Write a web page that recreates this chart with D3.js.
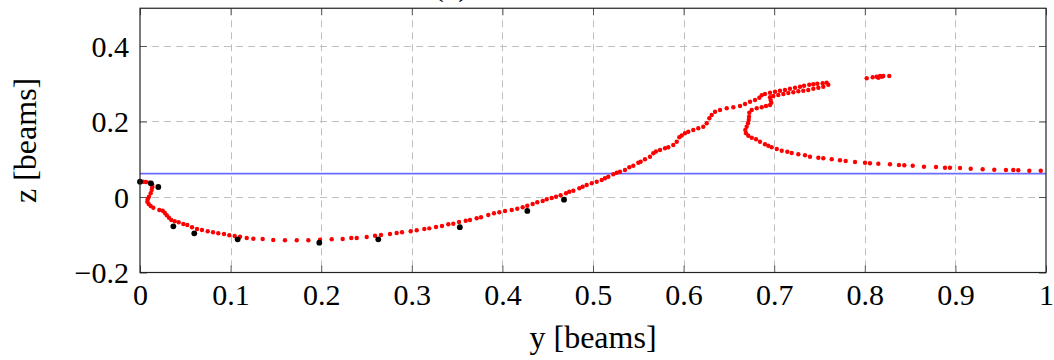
<!DOCTYPE html>
<html>
<head>
<meta charset="utf-8">
<script src="https://cdn.jsdelivr.net/npm/d3@7"></script>
<style>
  html, body { margin: 0; padding: 0; background: #fff; }
  svg { display: block; }
</style>
</head>
<body>
<svg id="chart" width="1054" height="360"></svg>
<script>
// Tick values for both axes
const xTicks = [0, 0.1, 0.2, 0.3, 0.4, 0.5, 0.6, 0.7, 0.8, 0.9, 1];
const zTicks = [-0.2, 0, 0.2, 0.4];

// Reference height (blue horizontal line)
const zLevel = 0.062;

// Tracked trajectory: horizontal position y [beams]
const trackY = [
  0.0036, 0.0066, 0.0103, 0.0136, 0.0136, 0.0129, 0.0118, 0.0099, 0.0085, 0.0081,
  0.0096, 0.0118, 0.0147, 0.0213, 0.0251, 0.0273, 0.0295, 0.0320, 0.0345, 0.0383,
  0.0427, 0.0478, 0.0522, 0.0574, 0.0629, 0.0684, 0.0747, 0.0806, 0.0864, 0.0927,
  0.0986, 0.1045, 0.1104, 0.1178, 0.1251, 0.1354, 0.1471, 0.1600, 0.1730, 0.1858,
  0.1987, 0.2116, 0.2237, 0.2332, 0.2392, 0.2502, 0.2594, 0.2660, 0.2759, 0.2833,
  0.2892, 0.2988, 0.3054, 0.3138, 0.3193, 0.3267, 0.3333, 0.3403, 0.3458, 0.3521,
  0.3595, 0.3642, 0.3716, 0.3764, 0.3844, 0.3907, 0.3966, 0.4029, 0.4103, 0.4164,
  0.4224, 0.4275, 0.4334, 0.4385, 0.4445, 0.4489, 0.4544, 0.4592, 0.4643, 0.4702,
  0.4738, 0.4783, 0.4849, 0.4886, 0.4930, 0.4986, 0.5041, 0.5096, 0.5132, 0.5169,
  0.5224, 0.5262, 0.5298, 0.5353, 0.5401, 0.5445, 0.5500, 0.5526, 0.5574, 0.5629,
  0.5666, 0.5695, 0.5740, 0.5795, 0.5831, 0.5886, 0.5924, 0.5953, 0.5979, 0.6015,
  0.6052, 0.6107, 0.6162, 0.6217, 0.6255, 0.6284, 0.6310, 0.6347, 0.6402, 0.6476,
  0.6549, 0.6623, 0.6678, 0.6733, 0.6788, 0.6836, 0.6862,
  0.6898, 0.6954, 0.7009, 0.7064, 0.7119, 0.7174, 0.7230, 0.7285, 0.7329, 0.7387,
  0.7432, 0.7476, 0.7535, 0.7579, 0.7597,
  0.7542, 0.7487, 0.7432, 0.7376, 0.7321, 0.7266, 0.7211, 0.7156, 0.7101, 0.7045,
  0.6990, 0.6954, 0.6961, 0.6968, 0.6954, 0.6909, 0.6862, 0.6807, 0.6752, 0.6725,
  0.6722, 0.6719, 0.6711, 0.6696, 0.6681, 0.6689, 0.6714, 0.6752, 0.6799, 0.6843,
  0.6898, 0.6935, 0.6972, 0.7028, 0.7083, 0.7145, 0.7193, 0.7266, 0.7340, 0.7395,
  0.7487, 0.7542, 0.7635, 0.7726, 0.7789, 0.7892, 0.8002, 0.8057, 0.8149, 0.8278,
  0.8377, 0.8436, 0.8529, 0.8653, 0.8786, 0.8885, 0.8940, 0.9051, 0.9169, 0.9301,
  0.9429, 0.9558, 0.9639, 0.9694, 0.9816, 0.9942,
  0.8021, 0.8087, 0.8131, 0.8149, 0.8168, 0.8187, 0.8204, 0.8270
];

// Tracked trajectory: vertical position z [beams]
const trackZ = [
  0.0405, 0.0397, 0.0379, 0.0318, 0.0257, 0.0185, 0.0098, 0.0008, -0.0061, -0.0125,
  -0.0185, -0.0238, -0.0283, -0.0344, -0.0363, -0.0416, -0.0485, -0.0548, -0.0609, -0.0644,
  -0.0670, -0.0715, -0.0742, -0.0803, -0.0848, -0.0874, -0.0909, -0.0935, -0.0962, -0.0980,
  -0.1015, -0.1033, -0.1051, -0.1086, -0.1104, -0.1113, -0.1139, -0.1147, -0.1147, -0.1147,
  -0.1131, -0.1121, -0.1113, -0.1086, -0.1086, -0.1060, -0.1025, -0.1007, -0.0980, -0.0954,
  -0.0935, -0.0909, -0.0882, -0.0848, -0.0830, -0.0795, -0.0768, -0.0723, -0.0707, -0.0662,
  -0.0628, -0.0609, -0.0564, -0.0538, -0.0477, -0.0432, -0.0405, -0.0371, -0.0344, -0.0310,
  -0.0273, -0.0230, -0.0185, -0.0140, -0.0106, -0.0061, -0.0026, 0.0008, 0.0045, 0.0098,
  0.0141, 0.0167, 0.0230, 0.0273, 0.0318, 0.0363, 0.0405, 0.0450, 0.0495, 0.0538,
  0.0601, 0.0644, 0.0670, 0.0715, 0.0787, 0.0829, 0.0909, 0.0935, 0.0999, 0.1068,
  0.1158, 0.1205, 0.1245, 0.1290, 0.1317, 0.1377, 0.1465, 0.1581, 0.1629, 0.1687,
  0.1730, 0.1775, 0.1820, 0.1862, 0.1952, 0.2085, 0.2172, 0.2260, 0.2305, 0.2350,
  0.2376, 0.2411, 0.2464, 0.2525, 0.2570, 0.2630, 0.2694,
  0.2728, 0.2763, 0.2789, 0.2816, 0.2834, 0.2869, 0.2895, 0.2922, 0.2948, 0.2975,
  0.2985, 0.3001, 0.3012, 0.3028, 0.2975,
  0.2922, 0.2895, 0.2869, 0.2834, 0.2816, 0.2800, 0.2773, 0.2755, 0.2728, 0.2702,
  0.2675, 0.2641, 0.2570, 0.2498, 0.2437, 0.2411, 0.2376, 0.2350, 0.2305, 0.2233,
  0.2127, 0.2040, 0.1952, 0.1862, 0.1775, 0.1687, 0.1624, 0.1571, 0.1528, 0.1465,
  0.1396, 0.1359, 0.1317, 0.1272, 0.1226, 0.1200, 0.1166, 0.1131, 0.1105, 0.1068,
  0.1041, 0.1025, 0.0999, 0.0972, 0.0954, 0.0927, 0.0909, 0.0893, 0.0882, 0.0866,
  0.0848, 0.0840, 0.0829, 0.0803, 0.0795, 0.0776, 0.0776, 0.0768, 0.0750, 0.0734,
  0.0723, 0.0715, 0.0715, 0.0707, 0.0697, 0.0697,
  0.3144, 0.3171, 0.3187, 0.3160, 0.3205, 0.3187, 0.3205, 0.3205
];

// Measured reference positions (black markers)
const refY = [0, 0.0121, 0.0202, 0.0368, 0.0599, 0.1078, 0.1979, 0.263, 0.353, 0.4275, 0.468];
const refZ = [0.0405, 0.0363, 0.0265, -0.0776, -0.0962, -0.112, -0.121, -0.112, -0.080, -0.037, -0.007];

const svg = d3.select("#chart");
const font = "'Liberation Serif', 'DejaVu Serif', serif";

const plotL = 140, plotR = 1046, plotT = 8.25, plotB = 272.5;
const x = d3.scaleLinear().domain([0, 1]).range([plotL, plotR]);
const z = d3.scaleLinear().domain([-0.2, 0.5]).range([plotB, plotT]);

const fmt = v => {
  if (v === 0) return "0";
  if (v === 1) return "1";
  const s = d3.format(".1f")(Math.abs(v));
  return (v < 0 ? "\u2212" : "") + s;
};

// Caption above the axes (mostly outside the view)
svg.append("text")
  .attr("x", 434).attr("y", -4)
  .attr("font-family", font).attr("font-size", 29)
  .attr("fill", "#000")
  .text("(b)");

// Grid
const grid = svg.append("g")
  .attr("stroke", "#bfbfbf")
  .attr("stroke-width", 1)
  .attr("stroke-dasharray", "7,5");
grid.selectAll("line.v").data(xTicks.filter(t => t > 0 && t < 1)).join("line")
  .attr("class", "v")
  .attr("x1", d => Math.round(x(d)) + 0.5).attr("x2", d => Math.round(x(d)) + 0.5)
  .attr("y1", plotT).attr("y2", plotB);
grid.selectAll("line.h").data(zTicks.filter(t => t > -0.2)).join("line")
  .attr("class", "h")
  .attr("x1", plotL).attr("x2", plotR)
  .attr("y1", d => Math.round(z(d)) + 0.5).attr("y2", d => Math.round(z(d)) + 0.5);

// Axes with inward ticks
const tickLen = 7;
const gx = svg.append("g").attr("transform", `translate(0,${plotB})`)
  .call(d3.axisBottom(x).tickValues(xTicks).tickSize(-tickLen).tickFormat(fmt));
const gxTop = svg.append("g").attr("transform", `translate(0,${plotT})`)
  .call(d3.axisTop(x).tickValues(xTicks).tickSize(-tickLen).tickFormat(""));
const gz = svg.append("g").attr("transform", `translate(${plotL},0)`)
  .call(d3.axisLeft(z).tickValues(zTicks).tickSize(-tickLen).tickPadding(11).tickFormat(fmt));
const gzRight = svg.append("g").attr("transform", `translate(${plotR},0)`)
  .call(d3.axisRight(z).tickValues(zTicks).tickSize(-tickLen).tickFormat(""));

[gx, gxTop, gz, gzRight].forEach(g => {
  g.select(".domain").remove();
  g.selectAll(".tick line").attr("stroke", "#555").attr("stroke-width", 1);
  g.attr("font-family", font).attr("font-size", 30);
});
gx.selectAll(".tick text").attr("fill", "#000").attr("dy", null).attr("y", 32);
gz.selectAll(".tick text").attr("fill", "#000").attr("dy", "0.34em");

// Reference level
svg.append("line")
  .attr("x1", x(0)).attr("x2", x(1))
  .attr("y1", z(zLevel)).attr("y2", z(zLevel))
  .attr("stroke", "#6b6bff").attr("stroke-width", 1.6);

// Trajectory markers
svg.append("g").attr("fill", "#ff0000")
  .selectAll("circle").data(d3.range(trackY.length)).join("circle")
  .attr("cx", i => x(trackY[i])).attr("cy", i => z(trackZ[i])).attr("r", 2.2);

// Reference markers
svg.append("g").attr("fill", "#000")
  .selectAll("circle").data(d3.range(refY.length)).join("circle")
  .attr("cx", i => x(refY[i])).attr("cy", i => z(refZ[i])).attr("r", 2.9);

// Frame
svg.append("rect")
  .attr("x", plotL).attr("y", plotT)
  .attr("width", plotR - plotL).attr("height", plotB - plotT)
  .attr("fill", "none").attr("stroke", "#222").attr("stroke-width", 1.2);

// Axis titles
svg.append("text")
  .attr("x", (plotL + plotR) / 2).attr("y", 348)
  .attr("text-anchor", "middle")
  .attr("font-family", font).attr("font-size", 32)
  .text("y [beams]");
svg.append("text")
  .attr("transform", `translate(36,${(plotT + plotB) / 2}) rotate(-90)`)
  .attr("text-anchor", "middle")
  .attr("font-family", font).attr("font-size", 32)
  .text("z [beams]");
</script>
</body>
</html>
